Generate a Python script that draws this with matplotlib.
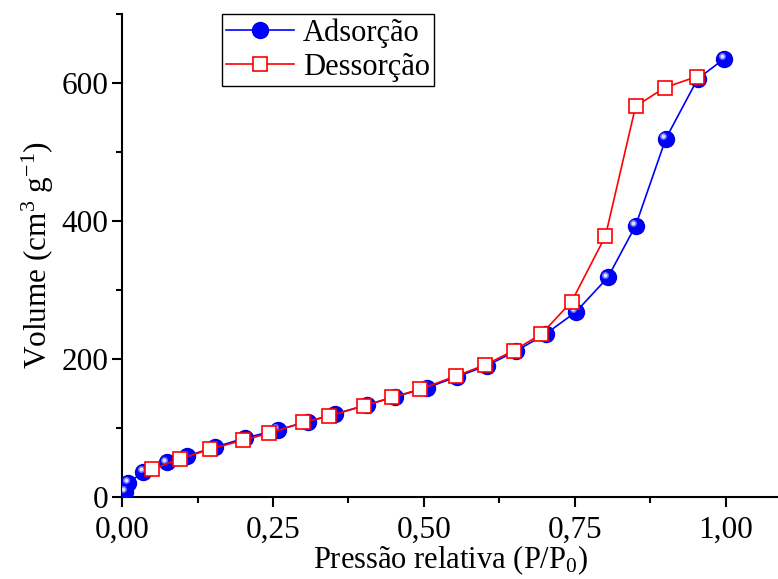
import matplotlib
matplotlib.use('Agg')
import matplotlib.pyplot as plt
from matplotlib.ticker import MultipleLocator, FuncFormatter
from matplotlib.transforms import offset_copy

# isoterma de adsorção/dessorção de N2
p_ads = [0.005, 0.010, 0.035, 0.074, 0.107, 0.154, 0.203, 0.258, 0.308, 0.353,
         0.405, 0.452, 0.505, 0.555, 0.604, 0.652, 0.702, 0.752, 0.805, 0.851,
         0.901, 0.954, 0.998]
v_ads = [7, 20, 36, 50, 59, 72, 85, 97, 109, 120,
         133, 145, 158, 174, 190, 211, 236, 268, 318, 393,
         519, 606, 635]

p_des = [0.952, 0.899, 0.851, 0.801, 0.745, 0.695, 0.649, 0.601, 0.553, 0.494,
         0.447, 0.401, 0.343, 0.300, 0.244, 0.200, 0.146, 0.096, 0.050]
v_des = [609, 593, 566, 378, 283, 236, 212, 191, 175, 156,
         144, 132, 117, 108, 92, 82, 69, 55, 40]

plt.rcParams['font.family'] = ['Liberation Serif', 'DejaVu Serif']
plt.rcParams['mathtext.fontset'] = 'custom'
plt.rcParams['mathtext.rm'] = 'Liberation Serif'
plt.rcParams['mathtext.it'] = 'Liberation Serif'

fig = plt.figure(figsize=(7.78, 5.79), dpi=100)
ax = fig.add_axes([0.157, 0.142, 0.843, 0.834])

ax.plot(p_ads, v_ads, '-', color='blue', lw=1.2, marker='o', ms=11.5,
        mfc='#0000ff', mec='#0000e0', label='Adsorção', zorder=3)
# brilho das esferas
shine = offset_copy(ax.transData, fig=fig, x=-1.8, y=1.8, units='points')
ax.plot(p_ads, v_ads, 'o', ms=5, color='#7070ff', mec='none', transform=shine, zorder=4)
ax.plot(p_ads, v_ads, 'o', ms=2.8, color='#e0e0ff', mec='none', transform=shine, zorder=4)
ax.plot(p_des, v_des, '-', color='red', lw=1.2, marker='s', ms=10,
        mfc='white', mec='red', mew=1.2, label='Dessorção', zorder=5)

ax.set_xlim(0, 1.087)
ax.set_ylim(0, 700)
ax.xaxis.set_major_locator(MultipleLocator(0.25))
ax.xaxis.set_minor_locator(MultipleLocator(0.125))
ax.yaxis.set_major_locator(MultipleLocator(200))
ax.yaxis.set_minor_locator(MultipleLocator(100))
ax.xaxis.set_major_formatter(FuncFormatter(lambda v, pos: f'{v:.2f}'.replace('.', ',')))

for s in ['top', 'right']:
    ax.spines[s].set_visible(False)
for s in ['left', 'bottom']:
    ax.spines[s].set_linewidth(1.5)
ax.tick_params(which='major', direction='out', length=7, width=1.5, labelsize=22.5)
ax.tick_params(which='minor', direction='out', length=4, width=1.5)
ax.tick_params(axis='y', pad=3)
ax.tick_params(axis='x', pad=7)

ax.set_xlabel('Pressão relativa (P/P$_0$)', fontsize=22, labelpad=-1)
ax.set_ylabel('Volume (cm$^{3}$ g$^{-1}$)', fontsize=22.5, labelpad=4)

leg = ax.legend(loc='upper left', bbox_to_anchor=(0.152, 1.0), borderaxespad=0,
                fontsize=22, handlelength=2.2, fancybox=False, framealpha=1,
                edgecolor='black', borderpad=0.15, labelspacing=0.15, handletextpad=0.3)
leg.get_frame().set_linewidth(1.0)

fig.savefig('out.png', dpi=100)
